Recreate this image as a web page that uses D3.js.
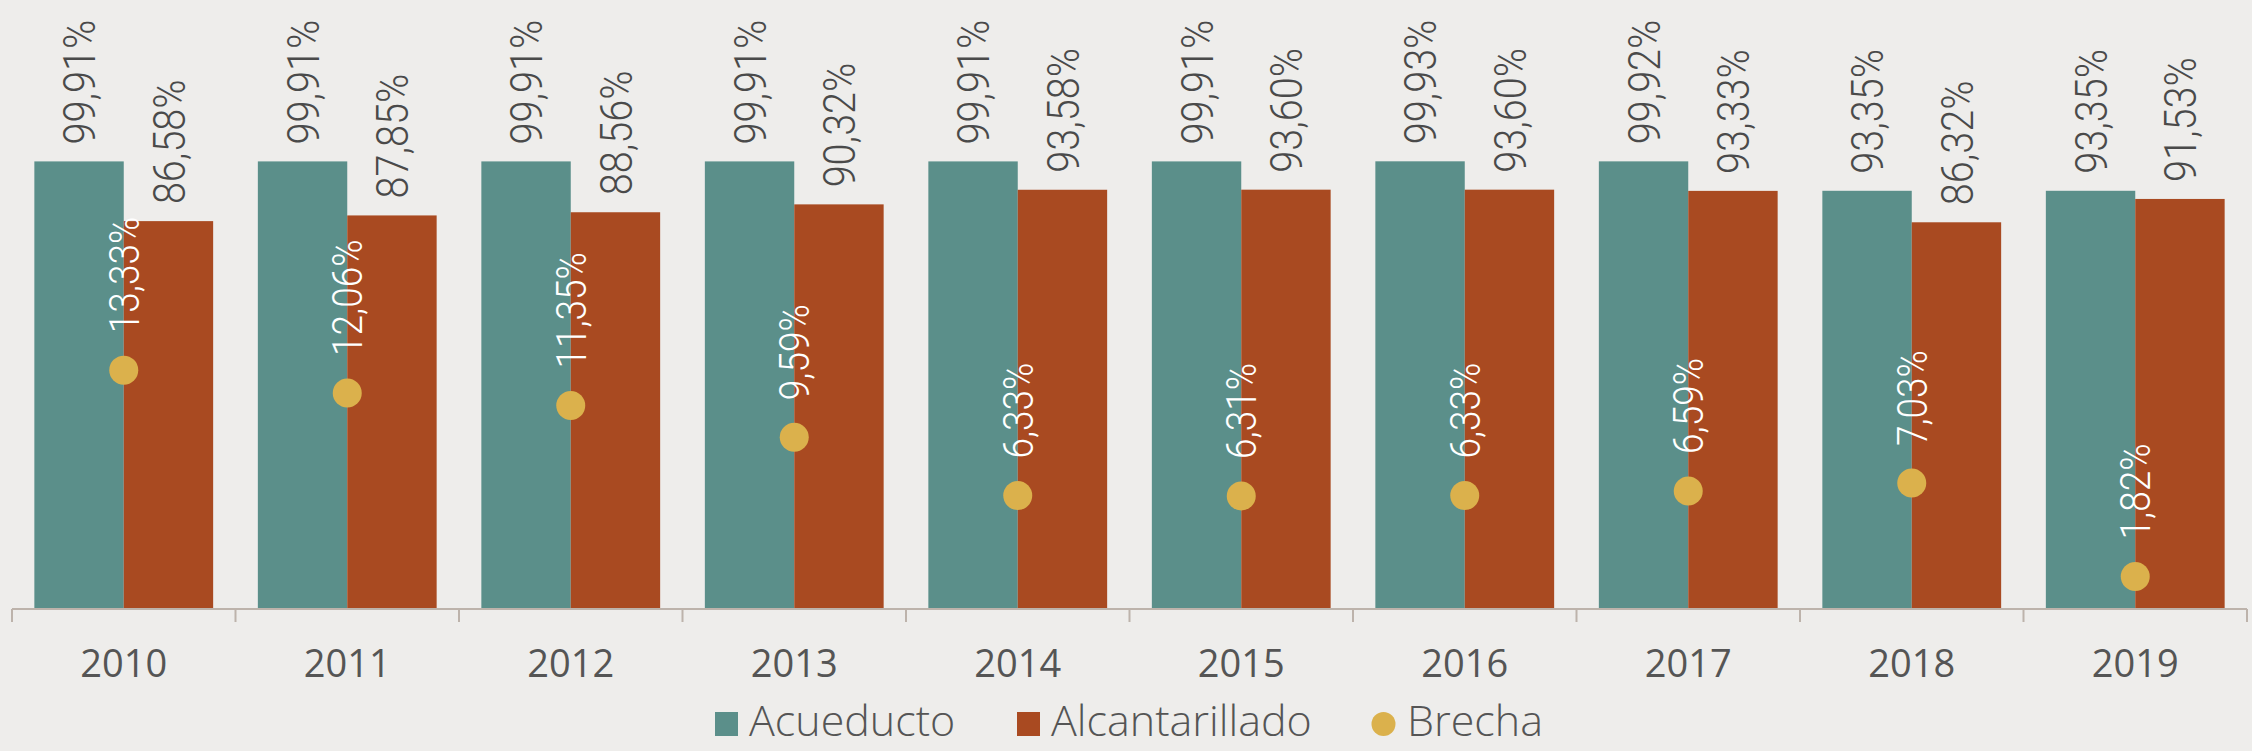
<!DOCTYPE html>
<html>
<head>
<meta charset="utf-8">
<script src="https://cdn.jsdelivr.net/npm/d3@7"></script>
<style>
  body { margin: 0; background: #eeedeb; }
  svg { display: block; }
</style>
</head>
<body>
<div id="chart"></div>
<script>
let years = ['2010', '2011', '2012', '2013', '2014', '2015', '2016', '2017', '2018', '2019'];
let acueducto = [99.91, 99.91, 99.91, 99.91, 99.91, 99.91, 99.93, 99.92, 93.35, 93.35];
let alcantarillado = [86.58, 87.85, 88.56, 90.32, 93.58, 93.60, 93.60, 93.33, 86.32, 91.53];
let brecha = [13.33, 12.06, 11.35, 9.59, 6.33, 6.31, 6.33, 6.59, 7.03, 1.82];
let seriesNames = ['Acueducto', 'Alcantarillado', 'Brecha'];

let colors = { Acueducto: '#5b8f8a', Alcantarillado: '#a94a21', Brecha: '#dbb14c' };

let data = years.map((yr, i) => ({
  year: yr, Acueducto: acueducto[i], Alcantarillado: alcantarillado[i], Brecha: brecha[i]
}));

let W = 2252, H = 751;
let baseY = 609, topY = 161;
let lightFont = 'Roboto, sans-serif';

let locale = d3.formatLocale({ decimal: ',', thousands: '.', grouping: [3], currency: ['', ''] });
let pct = (v) => locale.format('.2f')(v) + '%';

let svg = d3.select('#chart')
  .append('svg')
  .attr('width', W)
  .attr('height', H);

svg.append('rect')
  .attr('width', W).attr('height', H)
  .attr('fill', '#eeedeb');

// band for axis ticks (no padding) and band for bar groups
let xAxisBand = d3.scaleBand()
  .domain(years)
  .range([12, 2247]);

let x0 = d3.scaleBand()
  .domain(years)
  .range([12, 2247])
  .paddingInner(0.2)
  .paddingOuter(0.1);

let x1 = d3.scaleBand()
  .domain(['Acueducto', 'Alcantarillado'])
  .range([0, x0.bandwidth()]);

let y = d3.scaleLinear()
  .domain([0, 100])
  .range([baseY, topY]);

let y2 = d3.scaleLinear()
  .domain([0, 25])
  .range([baseY, topY]);

let group = svg.selectAll('.bar-group')
  .data(data)
  .enter()
  .append('g')
  .attr('class', 'bar-group')
  .attr('transform', (d) => `translate(${x0(d.year)},0)`);

['Acueducto', 'Alcantarillado'].forEach((key) => {
  group.append('rect')
    .attr('x', x1(key))
    .attr('y', (d) => y(d[key]))
    .attr('width', x1.bandwidth())
    .attr('height', (d) => baseY - y(d[key]))
    .style('fill', colors[key]);

  // narrow light labels: squeeze along the text direction
  group.append('text')
    .text((d) => pct(d[key]))
    .attr('transform', (d) =>
      `translate(${x1(key) + x1.bandwidth() / 2},${y(d[key]) - 17}) rotate(-90) scale(0.88,1)`)
    .attr('dy', '0.36em')
    .attr('text-anchor', 'start')
    .style('font-family', lightFont)
    .style('font-weight', 300)
    .style('font-size', '45px')
    .style('fill', '#4a4a4a');
});

// axis
let axis = svg.append('g');
axis.append('line')
  .attr('x1', xAxisBand.range()[0]).attr('x2', xAxisBand.range()[1])
  .attr('y1', baseY).attr('y2', baseY)
  .attr('stroke', '#bdb3ab').attr('stroke-width', 2);

axis.selectAll('.tick')
  .data(years.concat(['end']))
  .enter()
  .append('line')
  .attr('x1', (d) => d === 'end' ? xAxisBand.range()[1] : xAxisBand(d))
  .attr('x2', (d) => d === 'end' ? xAxisBand.range()[1] : xAxisBand(d))
  .attr('y1', baseY).attr('y2', baseY + 13)
  .attr('stroke', '#bdb3ab').attr('stroke-width', 2);

axis.selectAll('.year')
  .data(years)
  .enter()
  .append('text')
  .text((d) => d)
  .attr('x', (d) => xAxisBand(d) + xAxisBand.bandwidth() / 2)
  .attr('y', 677)
  .attr('text-anchor', 'middle')
  .style('font-family', '"Open Sans", sans-serif')
  .style('font-size', '38px')
  .style('fill', '#555');

// brecha dots + labels
let dots = svg.selectAll('.dot')
  .data(data)
  .enter()
  .append('g');

dots.append('circle')
  .attr('cx', (d) => x0(d.year) + x1('Alcantarillado'))
  .attr('cy', (d) => y2(d.Brecha))
  .attr('r', 14.5)
  .style('fill', colors.Brecha);

dots.append('text')
  .text((d) => pct(d.Brecha))
  .attr('transform', (d) =>
    `translate(${x0(d.year) + x1('Alcantarillado')},${y2(d.Brecha) - 37}) rotate(-90) scale(0.88,1)`)
  .attr('dy', '0.36em')
  .attr('text-anchor', 'start')
  .style('font-family', lightFont)
  .style('font-weight', 300)
  .style('font-size', '42px')
  .style('fill', '#ffffff');

// legend
let legendX = [715, 1017, 1372];
let legendBase = 736;
let legend = svg.selectAll('.legend')
  .data(seriesNames)
  .enter()
  .append('g')
  .attr('transform', (d, i) => `translate(${legendX[i]},0)`);

legend.filter((d) => d !== 'Brecha')
  .append('rect')
  .attr('x', 0).attr('y', legendBase - 24)
  .attr('width', 23).attr('height', 24)
  .style('fill', (d) => colors[d]);

legend.filter((d) => d === 'Brecha')
  .append('circle')
  .attr('cx', 11.5).attr('cy', legendBase - 12)
  .attr('r', 12)
  .style('fill', colors.Brecha);

legend.append('text')
  .text((d) => d)
  .attr('x', (d) => d === 'Brecha' ? 35 : 34)
  .attr('y', legendBase)
  .style('font-family', '"Open Sans", sans-serif')
  .style('font-weight', 300)
  .style('font-size', '43px')
  .style('fill', '#555');
</script>
</body>
</html>
